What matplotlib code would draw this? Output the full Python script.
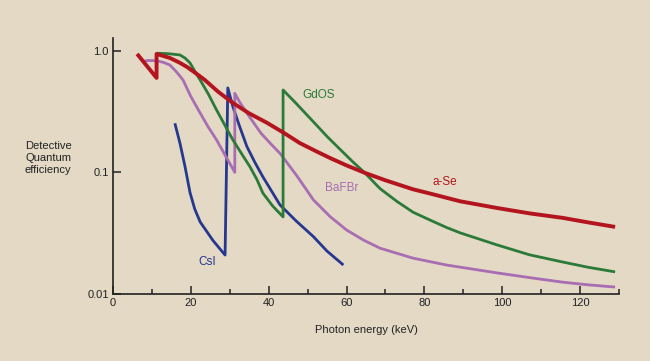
import matplotlib
matplotlib.use("Agg")
import matplotlib.pyplot as plt
from matplotlib.ticker import FixedLocator, NullFormatter

plt.rcParams['font.family'] = ['Liberation Sans', 'DejaVu Sans']

# a-Se (red)
ase_x = [6.2, 11.2, 11.2, 14.6, 17.0, 19.0, 21.2, 23.6, 27.0, 30.8, 35.0, 39.6, 44.0, 48.0, 52.0,
         55.8, 60.0, 64.7, 70.0, 77.1, 81.4, 89.2, 98.7, 107.0, 115.6, 122.0, 129.0]
ase_y = [0.94, 0.597, 0.94, 0.871, 0.80, 0.735, 0.655, 0.574, 0.46, 0.372, 0.305, 0.255, 0.21, 0.174, 0.150,
         0.131, 0.114, 0.099, 0.086, 0.0725, 0.067, 0.0578, 0.0509, 0.046, 0.0422, 0.0388, 0.0356]

# GdOS (green)
gdos_x = [11.2, 14.0, 17.2, 18.5, 19.8, 21.0, 22.4, 24.5, 26.6, 28.7, 30.8, 33.0, 35.2, 37.0, 38.5, 41.0, 43.7,
          43.7, 47.0, 51.4, 55.0, 58.3, 61.5, 64.7, 68.6, 73.0, 77.1, 81.4, 85.7, 89.2, 98.7, 107.0, 115.6, 122.0, 129.0]
gdos_y = [0.952, 0.945, 0.922, 0.87, 0.792, 0.68, 0.574, 0.44, 0.326, 0.245, 0.185, 0.143, 0.111, 0.087, 0.0676, 0.053, 0.043,
          0.475, 0.37, 0.262, 0.197, 0.155, 0.123, 0.099, 0.0735, 0.0575, 0.047, 0.0406, 0.0352, 0.0318, 0.0253, 0.021, 0.0183, 0.0166, 0.0152]

# BaFBr (purple)
bafbr_x = [7.4, 9.0, 11.2, 13.0, 14.6, 16.3, 18.0, 20.0, 22.4, 24.5, 26.6, 29.0, 31.3,
           31.3, 32.5, 34.4, 38.0, 40.5, 43.0, 47.2, 51.5, 55.8, 60.0, 64.3, 68.6, 77.1, 85.7, 98.7, 108.0, 115.6, 122.0, 129.0]
bafbr_y = [0.812, 0.83, 0.827, 0.80, 0.763, 0.67, 0.574, 0.42, 0.307, 0.235, 0.185, 0.135, 0.10,
           0.446, 0.38, 0.307, 0.21, 0.172, 0.142, 0.094, 0.0593, 0.0432, 0.0336, 0.0278, 0.0238, 0.0197, 0.0173, 0.0149, 0.0135, 0.0125, 0.0119, 0.0114]

# CsI (blue)
csi_x = [15.9, 17.2, 18.5, 19.8, 21.0, 22.4, 25.7, 28.8,
         29.5, 30.8, 32.5, 34.4, 36.5, 38.5, 42.9, 47.0, 51.5, 55.0, 59.2]
csi_y = [0.253, 0.174, 0.112, 0.068, 0.05, 0.0391, 0.0275, 0.0209,
         0.494, 0.347, 0.24, 0.163, 0.12, 0.092, 0.054, 0.04, 0.0296, 0.0225, 0.0173]

x_major = [0, 20, 40, 60, 80, 100, 120]
x_minor = [10, 30, 50, 70, 90, 110, 130]
y_ticks = [0.01, 0.1, 1.0]
y_labels = ['0.01', '0.1', '1.0']

bg = '#e3d9c4'
c_red = '#b3141e'
c_green = '#2b7a3a'
c_purple = '#a86db2'
c_blue = '#25378f'

fig = plt.figure(figsize=(6.5, 3.61), dpi=100, facecolor=bg)
ax = fig.add_axes([0.1738, 0.1856, 0.9523 - 0.1738, 0.8947 - 0.1856], facecolor=bg)

kw = dict(solid_joinstyle='round', solid_capstyle='butt')
ax.plot(csi_x, csi_y, color=c_blue, lw=2.0, **kw)
ax.plot(bafbr_x, bafbr_y, color=c_purple, lw=2.0, **kw)
ax.plot(gdos_x, gdos_y, color=c_green, lw=2.0, **kw)
ax.plot(ase_x, ase_y, color=c_red, lw=2.8, **kw)

ax.set_yscale('log')
ax.set_xlim(0, 130)
ax.set_ylim(0.01, 1.27)

for s in ['top', 'right']:
    ax.spines[s].set_visible(False)
for s in ['left', 'bottom']:
    ax.spines[s].set_color('#222222')
    ax.spines[s].set_linewidth(1.2)

ax.xaxis.set_major_locator(FixedLocator(x_major))
ax.xaxis.set_minor_locator(FixedLocator(x_minor))
ax.xaxis.set_minor_formatter(NullFormatter())
ax.set_xticklabels([str(v) for v in x_major])
ax.tick_params(axis='x', which='major', direction='in', length=6, width=1.1, color='#222222',
               labelsize=8, pad=3, labelcolor='#222222')
ax.tick_params(axis='x', which='minor', direction='in', length=3.5, width=1.1, color='#222222')

ax.yaxis.set_major_locator(FixedLocator(y_ticks))
ax.yaxis.set_minor_locator(FixedLocator([]))
ax.set_yticklabels(y_labels)
ax.tick_params(axis='y', which='major', direction='in', length=6, width=1.1, color='#222222',
               labelsize=8, pad=3, labelcolor='#222222')

ax.set_xlabel('Photon energy (keV)', fontsize=8, color='#222222', labelpad=12)

fig.text(48 / 650, 1 - 158 / 361, 'Detective\nQuantum\nefficiency', ha='center', va='center',
         fontsize=8, color='#222222', linespacing=1.3)

ax.text(48.6, 0.433, 'GdOS', color=c_green, fontsize=8.5, ha='left', va='center')
ax.text(82.2, 0.0833, 'a-Se', color=c_red, fontsize=8.5, ha='left', va='center')
ax.text(54.5, 0.0743, 'BaFBr', color=c_purple, fontsize=8.5, ha='left', va='center')
ax.text(21.9, 0.0182, 'CsI', color=c_blue, fontsize=8.5, ha='left', va='center')

fig.savefig('out.png', dpi=100, facecolor=bg)
